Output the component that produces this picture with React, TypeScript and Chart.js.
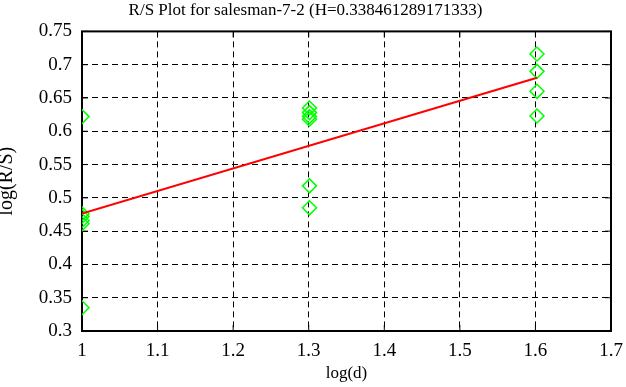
import React, { useEffect, useRef } from "react";
import { Chart, registerables } from "chart.js";
Chart.register(...registerables);

const titleText = "R/S Plot for salesman-7-2 (H=0.338461289171333)";
const xLabel = "log(d)";
const yLabel = "log(R/S)";

const logD = [1, 1, 1, 1, 1, 1, 1.30103, 1.30103, 1.30103, 1.30103, 1.30103, 1.30103, 1.60206, 1.60206, 1.60206, 1.60206];
const logRS = [0.622, 0.476, 0.472, 0.466, 0.461, 0.335, 0.635, 0.628, 0.622, 0.618, 0.518, 0.485, 0.716, 0.69, 0.66, 0.623];

const fitX = [1, 1.60206];
const fitY = [0.4765, 0.6803];

const xMin = 1, xMax = 1.7, xStep = 0.1;
const yMin = 0.3, yMax = 0.75, yStep = 0.05;

const serif = "'Liberation Serif', 'DejaVu Serif', serif";

const framePlugin = {
  id: "frame",
  beforeDatasetsDraw(chart: any) {
    const { ctx, chartArea: a, scales } = chart;
    ctx.save();
    ctx.strokeStyle = "#000";
    ctx.lineWidth = 1;
    ctx.setLineDash([]);
    const tl = 6;
    scales.x.ticks.forEach((t: any) => {
      const px = scales.x.getPixelForValue(t.value);
      ctx.beginPath();
      ctx.moveTo(px, a.bottom); ctx.lineTo(px, a.bottom - tl);
      ctx.moveTo(px, a.top); ctx.lineTo(px, a.top + tl);
      ctx.stroke();
    });
    scales.y.ticks.forEach((t: any) => {
      const py = scales.y.getPixelForValue(t.value);
      ctx.beginPath();
      ctx.moveTo(a.left, py); ctx.lineTo(a.left + tl, py);
      ctx.moveTo(a.right, py); ctx.lineTo(a.right - tl, py);
      ctx.stroke();
    });
    ctx.lineWidth = 2;
    ctx.strokeRect(a.left, a.top, a.right - a.left, a.bottom - a.top);
    ctx.restore();
  },
};

export default function App() {
  const ref = useRef<HTMLCanvasElement>(null);
  useEffect(() => {
    document.body.style.margin = "0";
    const chart = new Chart(ref.current!, {
      type: "scatter",
      data: {
        datasets: [
          {
            type: "line",
            data: fitX.map((x, i) => ({ x, y: fitY[i] })),
            borderColor: "#ff0000",
            borderWidth: 2,
            pointRadius: 0,
            fill: false,
            order: 1,
          },
          {
            data: logD.map((x, i) => ({ x, y: logRS[i] })),
            pointStyle: "rectRot",
            pointRadius: 7,
            borderColor: "#00ff00",
            backgroundColor: "rgba(0,0,0,0)",
            borderWidth: 1.5,
            order: 2,
          },
        ],
      },
      options: {
        animation: false,
        responsive: false,
        events: [],
        layout: { padding: { left: 0, right: 15, top: 0, bottom: 0 } },
        plugins: {
          legend: { display: false },
          tooltip: { enabled: false },
          title: {
            display: true,
            text: titleText,
            color: "#000",
            font: { family: serif, size: 17, weight: "normal" },
            padding: { top: 0, bottom: 11 },
          },
        },
        scales: {
          x: {
            type: "linear",
            min: xMin,
            max: xMax,
            ticks: {
              stepSize: xStep,
              color: "#000",
              font: { family: serif, size: 19 },
              padding: 9,
              callback: (v: any) => String(Math.round(Number(v) * 10) / 10),
            },
            grid: { color: "#000", lineWidth: 1, drawTicks: false },
            border: { display: false, dash: [6, 4] },
            title: {
              display: true,
              text: xLabel,
              color: "#000",
              font: { family: serif, size: 17 },
              padding: { top: 0, bottom: 3 },
            },
            afterFit: (s: any) => { s.height = 56; s.paddingLeft = 0; s.paddingRight = 0; },
          },
          y: {
            type: "linear",
            min: yMin,
            max: yMax,
            ticks: {
              stepSize: yStep,
              color: "#000",
              font: { family: serif, size: 19 },
              padding: 10,
              callback: (v: any) => String(Math.round(Number(v) * 100) / 100),
            },
            grid: { color: "#000", lineWidth: 1, drawTicks: false },
            border: { display: false, dash: [6, 4] },
            title: {
              display: true,
              text: yLabel,
              color: "#000",
              font: { family: serif, size: 20, lineHeight: 1 },
              padding: { top: -3, bottom: 0 },
            },
            afterFit: (s: any) => { s.width = 82; },
          },
        },
      },
      plugins: [framePlugin],
    } as any);
    return () => chart.destroy();
  }, []);
  return (
    <div style={{ width: 626, height: 387, background: "#fff" }}>
      <canvas ref={ref} width={626} height={387} />
    </div>
  );
}
